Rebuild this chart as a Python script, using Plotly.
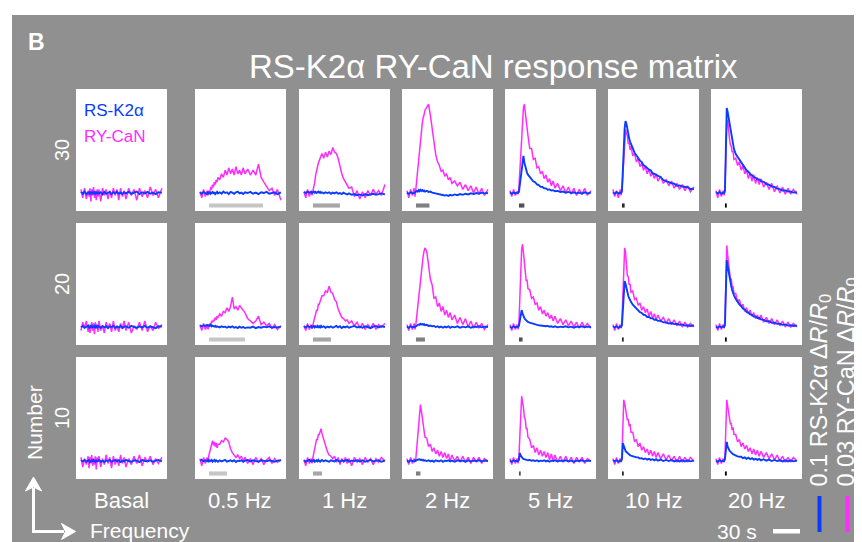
import plotly.graph_objects as go

W, H = 862, 542
OFF = 8  # page body margin: screen pixel = figure pixel + OFF
FONT = "Liberation Sans, Arial, Helvetica, sans-serif"
BG = "#909090"
BLUE = "#0a3cff"
MAGENTA = "#ff2cff"

# ---------------- data ----------------
TIME_S = [-10, -8, -6, -4, -2, -1, 0, 1, 2, 3, 4, 5, 6, 7, 8, 9, 10, 12, 14, 16, 18, 20, 22, 24, 26,
          28, 30, 32, 34, 36, 38, 40, 43, 46, 49, 52, 55, 58, 61, 64, 67, 70, 73, 76, 80]

FREQ_LABELS = ["Basal", "0.5 Hz", "1 Hz", "2 Hz", "5 Hz", "10 Hz", "20 Hz"]
FREQ_HZ = [0, 0.5, 1, 2, 5, 10, 20]
PULSES = [30, 20, 10]
ROW_LABELS = ["30", "20", "10"]
STIM_GREYS = [None, "#c6c6c6", "#a6a6a6", "#808080", "#525252", "#2a2a2a", "#000000"]

# RY-CaN  dR/R0 (%)   columns: Basal, 0.5, 1, 2, 5, 10, 20 Hz
RYCAN_30 = [
    [0.3,-0.4,0.4,-0.5,0.2, -0.3,0.4,-0.7,0.3,-0.2, 0.5,-0.4,0.2,-0.6,0.3, -0.3,0.3,-0.7,0.4,-0.2, 0.3,-0.5,0.2,-0.4,0.4, -0.2,0.3,-0.6,0.4,-0.3, 0.2,-0.5,0.4,-0.2,0.3, -0.6,0.4,-0.3,0.2,-0.4, 0.5,-0.2,0.3,-0.4,0.4],
    [0.1,-0.4,0.3,-0.3,0.2, -0.2,0.2,0.1,0.5,0.3, 0.7,0.5,0.9,0.7,1.1, 0.9,1.3,1.1,1.6,1.3, 1.9,1.5,2.1,1.6,2.0, 1.5,2.2,1.6,1.9,1.5, 2.1,1.6,2.0,1.5,1.9, 1.5,2.4,1.3,0.9,0.5, 0.2,0.4,-0.2,0.3,-0.6],
    [0.1,-0.4,0.3,-0.3,0.2, -0.2,0.2,0.5,0.9,1.5, 1.9,2.2,2.5,2.7,2.9, 3.0,3.3,2.9,3.4,3.0, 3.5,3.2,3.8,3.4,3.3, 2.9,2.2,1.6,1.2,0.9, 0.6,0.4,0.5,-0.3,0.2, -0.5,0.1,-0.4,0.2,-0.2, 0.3,-0.1,0.2,-0.2,0.7],
    [0.2,-0.4,0.3,-0.2,0.4, -0.3,0.4,1.2,2.0,2.9, 3.8,4.5,5.2,5.8,6.3, 6.5,6.9,7.1,7.4,6.5, 5.3,4.0,3.2,2.6,2.3, 1.8,1.9,1.4,1.6,1.1, 1.3,0.8,1.0,0.6,0.9, 0.3,0.7,0.2,0.6,0.0, 0.5,-0.1,0.4,-0.2,0.3],
    [0.2,-0.3,0.3,-0.2,0.1, -0.1,0.5,2.0,3.8,5.3, 6.4,7.1,7.4,6.6,6.1, 5.0,4.8,3.7,3.7,2.8, 2.9,2.1,2.2,1.6,1.8, 1.2,1.5,0.9,1.2,0.6, 1.0,0.4,0.8,0.2,0.6, 0.0,0.5,-0.1,0.4,-0.2, 0.3,-0.1,0.4,-0.2,0.2],
    [0.3,-0.3,0.2,-0.4,0.3, -0.2,0.2,1.4,3.3,4.8, 5.3,4.9,4.8,4.1,4.2, 3.6,3.9,3.1,3.3,2.6, 2.9,2.2,2.5,1.9,2.2, 1.6,2.0,1.4,1.7,1.2, 1.6,1.0,1.4,0.8,1.1, 0.6,1.0,0.4,0.8,0.3, 0.7,0.2,0.6,0.1,0.5],
    [0.2,-0.4,0.3,-0.3,0.2, -0.2,0.3,3.0,5.6,6.1, 5.0,4.6,4.0,3.9,3.4, 3.5,2.8,2.9,2.3,2.6, 1.9,2.3,1.6,1.9,1.2, 1.7,1.0,1.5,0.8,1.3, 0.7,1.2,0.5,0.9,0.3, 0.8,0.1,0.6,0.0,0.5, -0.1,0.4,-0.1,0.3,-0.1],
]
RYCAN_20 = [
    [-0.3,0.4,-0.1,0.5,-0.4, 0.2,-0.5,0.1,0.4,-0.3, 0.3,-0.6,0.4,-0.1,0.2, -0.4,0.5,-0.3,0.1,-0.5, 0.4,-0.1,0.3,-0.4,0.5, -0.3,0.1,-0.4,0.3,-0.1, 0.5,-0.3,0.4,-0.5,0.1, -0.2,0.4,-0.3,0.5,-0.4, 0.1,-0.3,0.4,-0.1,0.2],
    [0.2,-0.3,0.3,-0.2,0.1, -0.2,0.1,0.3,0.2,0.5, 0.4,0.6,0.5,0.8,0.6, 0.9,0.8,1.1,0.9,1.3, 1.2,1.6,1.3,1.7,2.5, 1.5,1.7,1.4,1.8,1.6, 1.4,1.2,0.7,0.5,0.3, 0.5,0.9,0.2,0.4,0.1, 0.3,-0.1,0.2,-0.2,0.1],
    [0.1,-0.3,0.3,-0.2,0.2, -0.1,0.2,0.5,0.8,1.1, 1.4,1.4,1.9,1.9,2.2, 2.3,2.6,2.6,3.0,2.9, 3.4,2.9,2.8,2.3,2.1, 1.5,1.1,0.8,0.7,0.5, 0.6,0.3,0.5,0.1,0.4, -0.1,0.3,-0.2,0.2,-0.1, 0.3,-0.2,0.2,0.0,0.3],
    [0.2,-0.3,0.3,-0.2,0.3, -0.2,0.3,1.0,1.8,2.7, 3.5,4.2,4.8,5.4,5.9, 6.3,6.6,6.3,5.2,4.0, 3.5,2.4,2.5,1.7,2.0, 1.3,1.7,1.0,1.4,0.8, 1.2,0.6,1.0,0.3,0.8, 0.2,0.7,0.0,0.5,-0.1, 0.4,-0.1,0.3,-0.2,0.2],
    [0.2,-0.3,0.3,-0.2,0.2, -0.2,0.4,2.5,4.8,6.5, 6.9,6.2,5.2,4.8,3.9, 3.9,3.2,3.1,2.4,2.5, 1.9,2.0,1.4,1.7,1.1, 1.4,0.9,1.2,0.7,1.0, 0.5,0.9,0.3,0.7,0.2, 0.6,0.1,0.5,0.0,0.4, -0.1,0.4,0.0,0.3,-0.1],
    [0.2,-0.3,0.3,-0.2,0.2, -0.1,0.5,2.8,5.5,6.6, 6.2,5.3,4.3,4.2,3.5, 3.6,2.9,3.0,2.3,2.4, 1.8,2.0,1.4,1.7,1.2, 1.5,0.9,1.3,0.7,1.1, 0.6,1.0,0.5,0.8,0.3, 0.7,0.2,0.6,0.1,0.5, 0.0,0.4,0.0,0.3,0.0],
    [0.2,-0.3,0.3,-0.2,0.2, -0.1,0.5,4.0,6.8,6.0, 5.2,4.9,4.0,4.0,3.3, 3.4,2.8,2.8,2.1,2.3, 1.7,1.9,1.3,1.6,1.1, 1.4,0.9,1.2,0.7,1.0, 0.6,1.0,0.4,0.8,0.3, 0.7,0.2,0.6,0.1,0.5, 0.0,0.4,0.0,0.3,0.0],
]
RYCAN_10 = [
    [0.3,-0.5,0.2,-0.3,0.4, -0.6,0.3,-0.2,0.5,-0.4, 0.2,-0.3,0.4,-0.7,0.3, -0.1,0.4,-0.5,0.2,-0.3, 0.5,-0.2,0.3,-0.6,0.4, -0.3,0.2,-0.4,0.5,-0.2, 0.3,-0.5,0.2,-0.3,0.4, -0.2,0.5,-0.4,0.3,-0.1, 0.4,-0.3,0.2,-0.2,0.3],
    [0.2,-0.4,0.3,-0.2,0.3, -0.1,0.5,0.9,1.1,1.4, 1.7,1.3,1.6,1.2,1.5, 1.1,1.4,1.4,1.7,1.6, 1.9,1.8,1.6,1.0,0.7, 0.5,0.3,0.5,0.2,0.4, 0.0,0.3,-0.2,0.2,-0.3, 0.3,-0.1,0.2,-0.3,0.1, 0.3,-0.2,0.2,-0.1,0.1],
    [0.1,-0.4,0.3,-0.2,0.2, -0.2,0.3,0.7,1.1,1.4, 1.8,1.8,2.2,2.2,2.5, 2.7,2.3,1.8,1.1,0.8, 0.5,0.4,0.2,0.4,-0.1, 0.3,-0.3,0.2,-0.1,0.3, -0.2,0.2,-0.4,0.3,-0.1, 0.2,-0.3,0.3,-0.1,0.2, -0.3,0.2,-0.1,0.3,0.0],
    [0.2,-0.3,0.3,-0.2,0.2, -0.1,0.3,1.2,2.2,3.2, 4.1,4.7,4.2,3.6,3.0, 2.7,2.0,1.9,1.2,1.4, 0.8,1.1,0.6,0.9,0.4, 0.8,0.3,0.7,0.2,0.6, 0.0,0.5,0.0,0.4,-0.1, 0.4,-0.1,0.3,-0.2,0.3, -0.1,0.3,-0.2,0.2,0.0],
    [0.2,-0.3,0.3,-0.2,0.2, -0.2,0.4,2.5,4.6,5.4, 4.9,4.5,3.6,3.5,2.7, 2.7,2.0,1.8,1.1,1.3, 0.7,1.1,0.5,0.9,0.4, 0.8,0.3,0.7,0.1,0.6, 0.0,0.5,-0.1,0.4,-0.1, 0.4,-0.1,0.3,-0.2,0.3, -0.1,0.3,-0.2,0.2,0.0],
    [0.2,-0.3,0.3,-0.2,0.2, -0.1,0.4,3.0,5.1,4.8, 4.3,4.1,3.4,3.5,2.9, 3.1,2.4,2.4,1.6,1.8, 1.2,1.5,0.9,1.2,0.7, 1.0,0.5,0.9,0.4,0.8, 0.3,0.7,0.2,0.6,0.1, 0.5,0.0,0.4,-0.1,0.4, -0.1,0.3,-0.1,0.3,0.0],
    [0.2,-0.3,0.3,-0.2,0.2, -0.1,0.4,3.5,5.1,4.6, 4.1,3.8,3.1,3.1,2.6, 2.8,2.2,2.2,1.6,1.8, 1.2,1.5,1.0,1.3,0.8, 1.1,0.6,1.0,0.5,0.9, 0.4,0.8,0.3,0.7,0.2, 0.6,0.1,0.5,0.0,0.4, -0.1,0.3,-0.1,0.3,0.0],
]

# RS-K2alpha dR/R0 (%)
RSK2A_30 = [
    [0.3,-0.2,0.4,-0.3,0.1, 0.2,-0.4,0.3,-0.1,0.2, -0.3,0.4,-0.2,0.1,-0.3, 0.3,-0.1,0.2,-0.4,0.3, -0.2,0.1,0.3,-0.3,0.2, -0.1,0.4,-0.2,0.1,-0.3, 0.2,-0.1,0.3,-0.2,0.1, 0.4,-0.3,0.2,-0.1,0.3, -0.2,0.1,-0.3,0.2,0.1],
    [0.2,-0.2,0.3,0.0,-0.3, 0.2,-0.1,0.3,-0.2,0.1, 0.3,-0.2,0.2,-0.3,0.1, 0.3,-0.1,0.2,-0.2,0.4, 0.0,0.2,-0.3,0.3,0.1, -0.2,0.2,0.4,-0.1,0.1, -0.3,0.2,0.0,0.3,-0.2, 0.1,-0.3,0.2,0.0,0.3, -0.2,0.1,0.2,-0.3,0.2],
    [0.3,0.0,0.4,0.1,0.3, 0.0,0.2,0.4,0.1,0.3, 0.0,0.2,0.4,0.1,0.3, 0.0,0.2,-0.1,0.2,0.0, 0.2,-0.2,0.1,-0.1,0.2, -0.2,0.0,-0.3,0.1,-0.2, -0.4,-0.1,-0.5,-0.3,-0.6, -0.4,-0.7,-0.3,-0.6,-0.4, -0.2,-0.5,-0.3,-0.1,-0.4],
    [0.1,-0.2,0.2,-0.1,0.0, 0.2,0.3,0.6,0.4,0.8, 0.5,0.9,0.6,0.8,0.5, 0.7,0.4,0.6,0.3,0.4, 0.1,0.0,-0.2,-0.3,-0.4, -0.6,-0.5,-0.7,-0.6,-0.8, -0.5,-0.7,-0.4,-0.6,-0.3, -0.5,-0.2,-0.4,-0.1,-0.3, 0.0,-0.2,0.1,-0.1,0.0],
    [0.2,-0.2,0.1,-0.1,0.2, 0.0,0.3,2.1,4.5,6.7, 9.0,10.3,8.5,7.2,6.2, 5.6,5.1,4.4,4.0,3.2, 3.0,2.4,2.2,1.7,1.7, 1.3,1.3,0.9,1.0,0.7, 0.8,0.5,0.6,0.3,0.4, 0.1,0.3,0.0,0.2,-0.1, 0.1,-0.2,0.2,-0.1,0.1],
    [0.2,-0.2,0.3,-0.1,0.1, 0.0,0.5,5.0,12.0,18.0, 20.0,19.2,17.5,16.2,15.2, 14.3,13.6,12.6,11.2,10.5, 9.7,9.0,8.6,7.7,7.4, 6.9,6.5,6.3,5.5,5.3, 5.0,4.7,4.4,3.6,3.4, 3.0,2.7,2.6,2.0,2.1, 1.8,1.6,1.6,1.1,1.2],
    [0.2,-0.1,0.3,-0.2,0.1, 0.0,0.5,12.0,23.6,22.5, 21.0,20.3,18.5,16.5,14.8, 13.3,12.2,10.8,10.0,9.3, 8.4,7.6,7.1,6.3,5.9, 5.2,5.0,4.4,4.3,3.8, 3.8,3.3,3.1,2.5,2.3, 1.8,1.7,1.2,1.1,0.7, 0.7,0.4,0.4,0.1,0.2],
]
RSK2A_20 = [
    [-0.1,0.3,-0.2,0.2,0.4, -0.3,0.1,0.3,-0.2,0.2, 0.0,0.3,-0.3,0.2,-0.1, 0.3,0.1,-0.2,0.3,-0.1, 0.2,-0.3,0.2,0.0,0.3, -0.2,0.1,-0.1,0.3,-0.3, 0.1,0.2,-0.2,0.3,0.0, -0.2,0.2,-0.1,0.3,-0.2, 0.2,0.0,-0.3,0.2,0.1],
    [0.4,0.2,0.5,0.3,0.6, 0.4,0.5,0.3,0.6,0.2, 0.4,0.3,0.1,0.3,0.0, 0.2,0.1,-0.1,0.2,0.0, 0.1,-0.2,0.1,-0.1,0.2, -0.2,0.0,-0.3,0.1,-0.2, 0.0,-0.3,-0.1,-0.2,0.1, -0.3,0.0,-0.2,0.1,-0.1, 0.2,-0.2,0.0,-0.1,0.1],
    [0.2,-0.1,0.3,0.0,0.2, -0.2,0.1,0.3,-0.1,0.2, 0.0,0.3,-0.2,0.2,-0.1, 0.3,0.0,0.2,-0.2,0.1, -0.1,0.2,-0.2,0.1,0.3, -0.1,0.2,-0.3,0.1,-0.1, 0.2,-0.2,0.1,0.3,-0.1, 0.1,-0.2,0.2,0.0,-0.3, 0.1,0.3,-0.1,0.2,0.0],
    [0.1,-0.2,0.2,-0.1,0.1, 0.0,0.2,0.4,0.5,0.7, 0.6,0.9,0.7,0.8,0.6, 0.8,0.5,0.6,0.3,0.4, 0.2,0.3,0.0,0.2,-0.1, 0.1,-0.2,0.1,-0.1,0.2, -0.2,0.1,-0.1,0.2,-0.2, 0.1,-0.1,0.2,-0.2,0.1, 0.0,0.2,-0.1,0.1,0.0],
    [0.1,-0.2,0.2,-0.1,0.1, 0.0,0.3,1.5,3.5,4.7, 3.8,3.0,2.5,2.1,1.8, 1.6,1.4,1.2,1.0,0.9, 0.7,0.6,0.5,0.4,0.4, 0.3,0.2,0.3,0.1,0.2, 0.0,0.2,-0.1,0.1,0.0, 0.2,-0.1,0.1,-0.2,0.1, 0.0,0.2,-0.1,0.1,0.0],
    [0.2,-0.1,0.2,-0.2,0.1, 0.0,0.5,4.5,10.0,12.8, 12.0,10.5,9.5,8.7,8.0, 7.4,7.0,6.2,5.6,5.1, 4.7,4.1,3.9,3.4,3.3, 2.8,2.8,2.4,2.4,2.0, 2.0,1.7,1.7,1.3,1.3, 1.0,1.1,0.8,0.9,0.6, 0.7,0.4,0.5,0.3,0.4],
    [0.1,-0.2,0.2,-0.1,0.2, 0.0,0.5,9.0,18.6,17.0, 15.2,13.8,12.5,11.3,10.3, 9.5,8.8,7.8,7.0,6.3, 5.8,5.1,4.8,4.2,4.0, 3.5,3.4,2.9,2.9,2.5, 2.5,2.1,2.0,1.6,1.6, 1.2,1.2,0.9,0.9,0.6, 0.7,0.4,0.5,0.3,0.4],
]
RSK2A_10 = [
    [0.2,-0.1,0.3,-0.2,0.1, 0.3,-0.3,0.1,0.2,-0.2, 0.3,0.0,-0.2,0.3,-0.1, 0.1,0.3,-0.2,0.1,-0.3, 0.2,0.0,0.3,-0.2,0.1, 0.3,-0.1,0.2,-0.3,0.1, -0.1,0.3,0.0,-0.2,0.2, 0.1,-0.3,0.3,0.0,-0.1, 0.2,-0.2,0.1,0.3,-0.1],
    [0.1,0.3,-0.1,0.2,0.0, 0.3,-0.1,0.2,0.0,0.3, -0.2,0.1,0.3,-0.1,0.2, 0.0,-0.2,0.2,-0.1,0.1, 0.3,-0.2,0.1,0.2,-0.1, 0.2,-0.3,0.1,0.0,0.2, -0.2,0.1,0.3,-0.1,0.2, 0.0,-0.2,0.2,0.1,-0.1, 0.2,0.0,-0.2,0.1,0.2],
    [0.2,-0.2,0.1,0.3,-0.1, 0.2,0.0,0.3,-0.2,0.1, 0.2,-0.1,0.3,0.0,-0.2, 0.1,0.3,-0.1,0.2,0.0, -0.2,0.2,0.1,-0.1,0.3, 0.0,-0.2,0.2,-0.1,0.1, 0.3,-0.2,0.1,0.0,0.2, -0.1,0.2,-0.2,0.1,0.3, -0.1,0.1,0.2,-0.2,0.1],
    [0.1,-0.2,0.2,0.0,-0.1, 0.2,0.1,0.3,0.4,0.3, 0.5,0.3,0.4,0.2,0.3, 0.1,0.2,0.0,0.2,-0.1, 0.1,-0.2,0.2,0.0,-0.1, 0.2,-0.2,0.1,0.0,0.2, -0.1,0.1,-0.2,0.2,0.0, 0.1,-0.2,0.2,-0.1,0.1, 0.0,0.2,-0.1,0.1,0.0],
    [0.1,-0.2,0.2,-0.1,0.1, 0.0,0.3,2.2,1.5,1.0, 0.8,0.6,0.5,0.4,0.3, 0.3,0.2,0.3,0.1,0.2, 0.0,0.2,-0.1,0.1,0.0, 0.2,-0.1,0.1,-0.2,0.1, 0.0,0.2,-0.1,0.1,0.0, 0.2,-0.1,0.1,-0.2,0.1, 0.0,0.2,-0.1,0.1,0.0],
    [0.2,-0.1,0.2,-0.2,0.1, 0.0,0.5,5.0,4.2,3.3, 2.8,2.5,2.2,2.0,1.8, 1.6,1.5,1.3,1.1,1.0, 1.0,0.7,0.8,0.5,0.7, 0.4,0.6,0.3,0.5,0.2, 0.5,0.1,0.4,0.0,0.3, 0.0,0.3,-0.1,0.2,-0.1, 0.2,-0.1,0.2,-0.1,0.1],
    [0.1,-0.2,0.2,-0.1,0.1, 0.0,0.5,4.5,5.3,4.0, 3.3,2.9,2.6,2.3,2.1, 1.9,1.8,1.5,1.3,1.2, 1.2,0.8,1.0,0.6,0.9, 0.5,0.8,0.4,0.6,0.3, 0.6,0.2,0.5,0.1,0.4, 0.0,0.3,0.0,0.2,-0.1, 0.2,-0.1,0.2,-0.1,0.1],
]

RYCAN = [RYCAN_30, RYCAN_20, RYCAN_10]
RSK2A = [RSK2A_30, RSK2A_20, RSK2A_10]

MAG_SCALE = 3.0    # % dR/R0 scale bar (0.03)
BLUE_SCALE = 10.0  # % dR/R0 scale bar (0.1)
TIME_SCALE = 30    # s

# ---------------- geometry (screen pixels) ----------------
COL_X = [76, 195, 299, 402, 505, 608, 711]
ROW_Y = [89, 223, 357]
PW, PH = 91, 122
X_RANGE = [-15.5, 85.6]
MAG_RANGE = [-1.5, 8.67]
BLUE_RANGE = [-5.0, 28.9]


def px(x):
    return (x - OFF) / W


def py(y):
    return (H - (y - OFF)) / H


fig = go.Figure()
layout_axes = {}
shapes = []

# background (grey frame, white margins)
shapes.append(dict(type="rect", xref="paper", yref="paper", x0=0, x1=px(12), y0=0, y1=1,
                   fillcolor="white", line=dict(width=0), layer="below"))
shapes.append(dict(type="rect", xref="paper", yref="paper", x0=0, x1=1, y0=py(15), y1=1,
                   fillcolor="white", line=dict(width=0), layer="below"))

for r in range(3):
    for c in range(7):
        k = r * 7 + c
        xid = "x" if k == 0 else f"x{k + 1}"
        yid = "y" if k == 0 else f"y{2 * k + 1}"
        yid2 = f"y{2 * k + 2}"
        xkey = "xaxis" if k == 0 else f"xaxis{k + 1}"
        ykey = "yaxis" if k == 0 else f"yaxis{2 * k + 1}"
        ykey2 = f"yaxis{2 * k + 2}"
        layout_axes[xkey] = dict(domain=[px(COL_X[c]), px(COL_X[c] + PW)], range=X_RANGE,
                                 visible=False, anchor=yid, fixedrange=True)
        layout_axes[ykey] = dict(domain=[py(ROW_Y[r] + PH), py(ROW_Y[r])], range=MAG_RANGE,
                                 visible=False, anchor=xid, fixedrange=True)
        layout_axes[ykey2] = dict(range=BLUE_RANGE, overlaying=yid, visible=False,
                                  anchor=xid, fixedrange=True)
        fig.add_trace(go.Scatter(x=TIME_S, y=RYCAN[r][c], mode="lines",
                                 line=dict(color=MAGENTA, width=1.5),
                                 xaxis=xid, yaxis=yid, showlegend=False, hoverinfo="skip"))
        fig.add_trace(go.Scatter(x=TIME_S, y=RSK2A[r][c], mode="lines",
                                 line=dict(color=BLUE, width=1.9),
                                 xaxis=xid, yaxis=yid2, showlegend=False, hoverinfo="skip"))
        if FREQ_HZ[c] > 0:
            dur = PULSES[r] / FREQ_HZ[c]
            shapes.append(dict(type="rect", xref=xid, yref=f"{yid} domain",
                               x0=0, x1=max(dur, 2.0), y0=0.028, y1=0.062,
                               fillcolor=STIM_GREYS[c], line=dict(width=0)))

annotations = []


def ann(text, x, y, size, color="white", angle=0, xanchor="center", yanchor="middle"):
    annotations.append(dict(text=text, x=px(x), y=py(y), xref="paper", yref="paper",
                            showarrow=False, textangle=angle, xanchor=xanchor, yanchor=yanchor,
                            font=dict(family=FONT, size=size, color=color)))


ann("<b>B</b>", 36, 42, 23)
ann("RS-K2α RY-CaN response matrix", 494, 66, 33)
ann("RS-K2α", 82, 111, 17, color=BLUE, xanchor="left")
ann("RY-CaN", 82, 136, 17, color=MAGENTA, xanchor="left")

for r, lab in enumerate(ROW_LABELS):
    ann(lab, 62, ROW_Y[r] + PH / 2, 20, angle=-90)
for c, lab in enumerate(FREQ_LABELS):
    ann(lab, COL_X[c] + PW / 2, 500, 22)

ann("Number", 34, 423, 21, angle=-90)
ann("Frequency", 140, 530, 21)

# axes arrows (bottom-left)
LW = 3
shapes.append(dict(type="line", xref="paper", yref="paper", x0=px(33.5), x1=px(33.5),
                   y0=py(531.5), y1=py(488), line=dict(color="white", width=LW)))
shapes.append(dict(type="line", xref="paper", yref="paper", x0=px(32), x1=px(64),
                   y0=py(531.5), y1=py(531.5), line=dict(color="white", width=LW)))
shapes.append(dict(type="path", xref="paper", yref="paper",
                   path=f"M {px(33.5)} {py(477)} L {px(41.5)} {py(491)} L {px(33.5)} {py(487)} L {px(25.5)} {py(491)} Z",
                   fillcolor="white", line=dict(color="white", width=1)))
shapes.append(dict(type="path", xref="paper", yref="paper",
                   path=f"M {px(75.5)} {py(531.5)} L {px(61.5)} {py(539.5)} L {px(65.5)} {py(531.5)} L {px(61.5)} {py(523.5)} Z",
                   fillcolor="white", line=dict(color="white", width=1)))

# time scale bar
sec_px = PW / (X_RANGE[1] - X_RANGE[0])
tx0 = 773
shapes.append(dict(type="rect", xref="paper", yref="paper", x0=px(tx0), x1=px(tx0 + TIME_SCALE * sec_px),
                   y0=py(533.5), y1=py(529), fillcolor="white", line=dict(width=0)))
ann(f"{TIME_SCALE} s", 759, 531, 21, xanchor="right")

# amplitude scale bars
mag_px = PH / (MAG_RANGE[1] - MAG_RANGE[0])
blue_px = PH / (BLUE_RANGE[1] - BLUE_RANGE[0])
ybot = 532
shapes.append(dict(type="rect", xref="paper", yref="paper", x0=px(817.5), x1=px(821.5),
                   y0=py(ybot), y1=py(ybot - BLUE_SCALE * blue_px), fillcolor=BLUE, line=dict(width=0)))
shapes.append(dict(type="rect", xref="paper", yref="paper", x0=px(845.5), x1=px(849.5),
                   y0=py(ybot), y1=py(ybot - MAG_SCALE * mag_px), fillcolor=MAGENTA, line=dict(width=0)))
ann(f"{BLUE_SCALE / 100:g} RS-K2α Δ<i>R</i>/<i>R</i><sub>0</sub>", 820, 489, 23.5, angle=-90, yanchor="bottom")
ann(f"{MAG_SCALE / 100:g} RY-CaN Δ<i>R</i>/<i>R</i><sub>0</sub>", 847, 489, 23.5, angle=-90, yanchor="bottom")

fig.update_layout(
    width=W, height=H, margin=dict(l=0, r=0, t=0, b=0),
    paper_bgcolor=BG, plot_bgcolor="white",
    showlegend=False, shapes=shapes, annotations=annotations,
    font=dict(family=FONT, color="white"),
    **layout_axes,
)

fig.write_html("out.html")
